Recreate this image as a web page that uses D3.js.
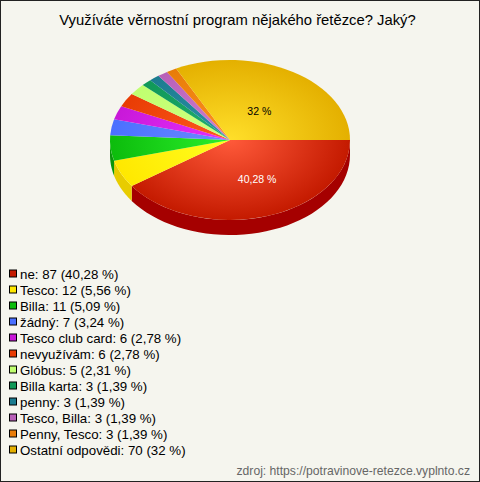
<!DOCTYPE html>
<html><head><meta charset="utf-8">
<script src="https://cdn.jsdelivr.net/npm/d3@7"></script>
<style>html,body{margin:0;padding:0;background:#fff}svg{display:block}text{font-family:"Liberation Sans",Arial,sans-serif}</style>
</head><body><svg id="c" width="480" height="482"></svg>
<script>
const titleText = "Využíváte věrnostní program nějakého řetězce? Jaký?";
const footerText = "zdroj: https://potravinove-retezce.vyplnto.cz";
const categories = ["ne","Tesco","Billa","žádný","Tesco club card","nevyužívám","Glóbus","Billa karta","penny","Tesco, Billa","Penny, Tesco","Ostatní odpovědi"];
const counts = [87,12,11,7,6,6,5,3,3,3,3,70];
const percents = ["40,28","5,56","5,09","3,24","2,78","2,78","2,31","1,39","1,39","1,39","1,39","32"];
const legendColors = ["#c41a00","#ffe800","#0cbc0c","#4a70ff","#c818d8","#e83c04","#c0ff70","#109858","#1c7c90","#b860b8","#e87c08","#e4b000"];
const centerColors = ["#ff5a3a","#ffff20","#2cf02c","#6c8cff","#e830ff","#ff5a1e","#d0ff80","#20b070","#2a90a8","#d080d0","#ff9020","#ffdf2a"];
const sideColors = ["#a50000","#e8cc00","#0a960a","#3a58c8","#a010a8","#b83000","#98cc58","#0c7846","#166070","#904c90","#b86006","#b48c00"];
const sliceLabels = [{i:0,text:"40,28 %",fill:"#fff"},{i:11,text:"32 %",fill:"#000"}];

const cx=230, cy=140, rx=120, ry=80, depth=15;
const labelFx=[0.75,0.465], labelFy=[0.51,0.43];
const svg=d3.select("#c");
svg.append("rect").attr("x",0.5).attr("y",0.5).attr("width",479).attr("height",481).attr("fill","#f5f5ee").attr("stroke","#222");
svg.append("text").attr("x",237.5).attr("y",25).attr("text-anchor","middle").attr("font-size",14.8).attr("fill","#000").text(titleText);

const pie=d3.pie().sort(null).startAngle(Math.PI/2).endAngle(Math.PI/2+2*Math.PI).value(d=>d);
const arcs=pie(counts);
const px=a=>cx+rx*Math.sin(a), py=a=>cy-ry*Math.cos(a);
const defs=svg.append("defs");
centerColors.forEach((c,i)=>{
  const g=defs.append("radialGradient").attr("id","g"+i).attr("gradientUnits","userSpaceOnUse").attr("cx",0).attr("cy",0).attr("r",rx);
  g.append("stop").attr("offset",0).attr("stop-color",c);
  g.append("stop").attr("offset",1).attr("stop-color",legendColors[i]);
});
const side=svg.append("g");
arcs.forEach((d,i)=>{
  const a0=Math.max(d.startAngle,Math.PI/2), a1=Math.min(d.endAngle,3*Math.PI/2);
  if(a1<=a0) return;
  const p=d3.path();
  p.moveTo(px(a0),py(a0));
  const N=40;
  for(let k=1;k<=N;k++){const a=a0+(a1-a0)*k/N;p.lineTo(px(a),py(a));}
  for(let k=N;k>=0;k--){const a=a0+(a1-a0)*k/N;p.lineTo(px(a),py(a)+depth);}
  p.closePath();
  side.append("path").attr("d",p.toString()).attr("fill",sideColors[i]);
});
const arc=d3.arc().innerRadius(0).outerRadius(rx);
const topFace=svg.append("g").attr("transform",`translate(${cx},${cy}) scale(1,${ry/rx})`);
topFace.selectAll("path").data(arcs).join("path").attr("d",arc).attr("fill",(d,i)=>`url(#g${i})`);

sliceLabels.forEach((l,n)=>{
  const a=(arcs[l.i].startAngle+arcs[l.i].endAngle)/2;
  svg.append("text").attr("x",cx+rx*labelFx[n]*Math.sin(a)).attr("y",cy-ry*labelFy[n]*Math.cos(a)+4).attr("text-anchor","middle").attr("font-size",10.5).attr("fill",l.fill).text(l.text);
});

const ly=d3.scalePoint().domain(categories).range([273.5,449.5]);
const leg=svg.append("g");
categories.forEach((c,i)=>{
  const y=ly(c);
  leg.append("rect").attr("x",9.5).attr("y",y-3.5).attr("width",7).attr("height",7).attr("fill",legendColors[i]).attr("stroke","#000");
  leg.append("text").attr("x",20).attr("y",y+5.5).attr("font-size",13.3).attr("fill","#000").text(`${c}: ${counts[i]} (${percents[i]} %)`);
});
svg.append("text").attr("x",470).attr("y",475).attr("text-anchor","end").attr("font-size",12.15).attr("fill","#666").text(footerText);
</script></body></html>
